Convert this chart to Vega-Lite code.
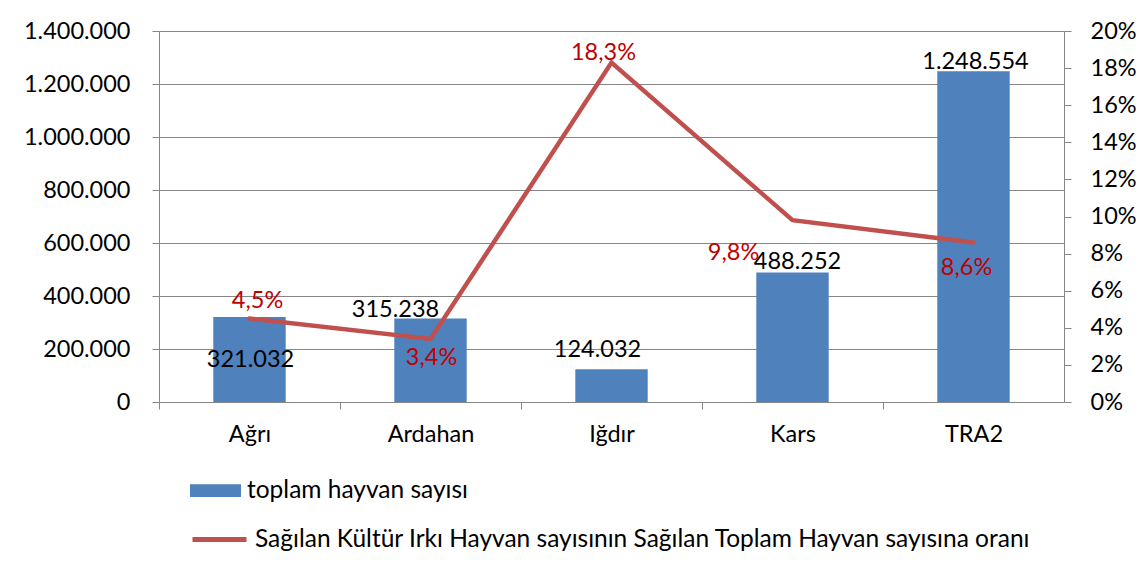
{
  "$schema": "https://vega.github.io/schema/vega-lite/v6.json",
  "width": 905,
  "height": 371,
  "autosize": {"type": "none"},
  "padding": {"left": 159, "top": 31, "right": 82, "bottom": 173},
  "background": "white",
  "config": {
    "font": "Lato",
    "locale": {"number": {"decimal": ",", "thousands": ".", "grouping": [3], "currency": ["", " TL"]}},
    "view": {"stroke": null},
    "axis": {"labelFont": "Lato", "labelFontSize": 23.5, "labelColor": "#000000", "domainColor": "#868686", "tickColor": "#868686", "gridColor": "#868686", "tickSize": 7, "domainWidth": 1, "tickWidth": 1, "gridWidth": 1},
    "legend": {"labelFont": "Lato", "labelFontSize": 24.5, "labelColor": "#000000", "labelLimit": 0}
  },
  "data": {"values": [
    {"il": "Ağrı", "toplam": 321032, "oran": 0.045},
    {"il": "Ardahan", "toplam": 315238, "oran": 0.034},
    {"il": "Iğdır", "toplam": 124032, "oran": 0.183},
    {"il": "Kars", "toplam": 488252, "oran": 0.098},
    {"il": "TRA2", "toplam": 1248554, "oran": 0.086}
  ]},
  "encoding": {
    "x": {"field": "il", "type": "nominal", "sort": null,
      "scale": {"paddingInner": 0.6, "paddingOuter": 0.3},
      "axis": {"title": null, "labelAngle": 0, "labelPadding": 13, "tickOffset": -90.5, "labelOffset": 90.5, "grid": false}}
  },
  "layer": [
    {
      "encoding": {
        "y": {"field": "toplam", "type": "quantitative",
          "scale": {"domain": [0, 1400000], "nice": false},
          "axis": {"orient": "left", "title": null, "format": ",.0f", "values": [0, 200000, 400000, 600000, 800000, 1000000, 1200000, 1400000], "grid": true, "labelPadding": 22}}
      },
      "layer": [
        {"mark": {"type": "bar", "fill": "#4F81BD"},
          "encoding": {"fill": {"datum": "toplam hayvan sayısı", "type": "nominal",
            "scale": {"range": ["#4F81BD"]},
            "legend": {"orient": "none", "legendX": 31, "legendY": 434, "title": null, "symbolType": "M-1,-0.25H1V0.25H-1Z", "symbolSize": 2601, "symbolStrokeWidth": 0, "labelOffset": 6}}}},
        {"transform": [{"filter": "datum.il === 'Ağrı'"}], "mark": {"type": "text", "baseline": "middle", "fontSize": 23.5, "dx": 1, "dy": 43, "color": "#000000"}, "encoding": {"text": {"field": "toplam", "type": "quantitative", "format": ",.0f"}}},
        {"transform": [{"filter": "datum.il === 'Ardahan'"}], "mark": {"type": "text", "baseline": "middle", "fontSize": 23.5, "dx": -35, "dy": -8, "color": "#000000"}, "encoding": {"text": {"field": "toplam", "type": "quantitative", "format": ",.0f"}}},
        {"transform": [{"filter": "datum.il === 'Iğdır'"}], "mark": {"type": "text", "baseline": "middle", "fontSize": 23.5, "dx": -14, "dy": -19, "color": "#000000"}, "encoding": {"text": {"field": "toplam", "type": "quantitative", "format": ",.0f"}}},
        {"transform": [{"filter": "datum.il === 'Kars'"}], "mark": {"type": "text", "baseline": "middle", "fontSize": 23.5, "dx": 5, "dy": -11, "color": "#000000"}, "encoding": {"text": {"field": "toplam", "type": "quantitative", "format": ",.0f"}}},
        {"transform": [{"filter": "datum.il === 'TRA2'"}], "mark": {"type": "text", "baseline": "middle", "fontSize": 23.5, "dx": 2, "dy": -9, "color": "#000000"}, "encoding": {"text": {"field": "toplam", "type": "quantitative", "format": ",.0f"}}}
      ]
    },
    {
      "encoding": {
        "y": {"field": "oran", "type": "quantitative",
          "scale": {"domain": [0, 0.2], "nice": false},
          "axis": {"orient": "right", "title": null, "format": ".0%", "values": [0, 0.02, 0.04, 0.06, 0.08, 0.1, 0.12, 0.14, 0.16, 0.18, 0.2], "grid": false, "labelPadding": 19}}
      },
      "layer": [
        {"transform": [{"filter": "datum.il === 'Ağrı'"}], "mark": {"type": "text", "baseline": "middle", "fontSize": 23.5, "dx": 8, "dy": -18, "color": "#C00000"}, "encoding": {"text": {"field": "oran", "type": "quantitative", "format": ".1%"}}},
        {"transform": [{"filter": "datum.il === 'Ardahan'"}], "mark": {"type": "text", "baseline": "middle", "fontSize": 23.5, "dx": 1, "dy": 19, "color": "#C00000"}, "encoding": {"text": {"field": "oran", "type": "quantitative", "format": ".1%"}}},
        {"transform": [{"filter": "datum.il === 'Iğdır'"}], "mark": {"type": "text", "baseline": "middle", "fontSize": 23.5, "dx": -8, "dy": -10, "color": "#C00000"}, "encoding": {"text": {"field": "oran", "type": "quantitative", "format": ".1%"}}},
        {"transform": [{"filter": "datum.il === 'Kars'"}], "mark": {"type": "text", "baseline": "middle", "fontSize": 23.5, "dx": -59, "dy": 33, "color": "#C00000"}, "encoding": {"text": {"field": "oran", "type": "quantitative", "format": ".1%"}}},
        {"transform": [{"filter": "datum.il === 'TRA2'"}], "mark": {"type": "text", "baseline": "middle", "fontSize": 23.5, "dx": -7, "dy": 26, "color": "#C00000"}, "encoding": {"text": {"field": "oran", "type": "quantitative", "format": ".1%"}}},
        {"mark": {"type": "line", "strokeWidth": 4.5, "strokeCap": "round", "strokeJoin": "miter"},
          "encoding": {"stroke": {"datum": "Sağılan Kültür Irkı Hayvan sayısının Sağılan Toplam Hayvan sayısına oranı", "type": "nominal",
            "scale": {"range": ["#C0504D"]},
            "legend": {"orient": "none", "legendX": 31, "legendY": 479, "title": null, "symbolType": "stroke", "symbolSize": 2916, "symbolStrokeWidth": 5, "labelOffset": 6}}}}
      ]
    }
  ],
  "resolve": {"scale": {"y": "independent", "fill": "independent", "stroke": "independent"}}
}
